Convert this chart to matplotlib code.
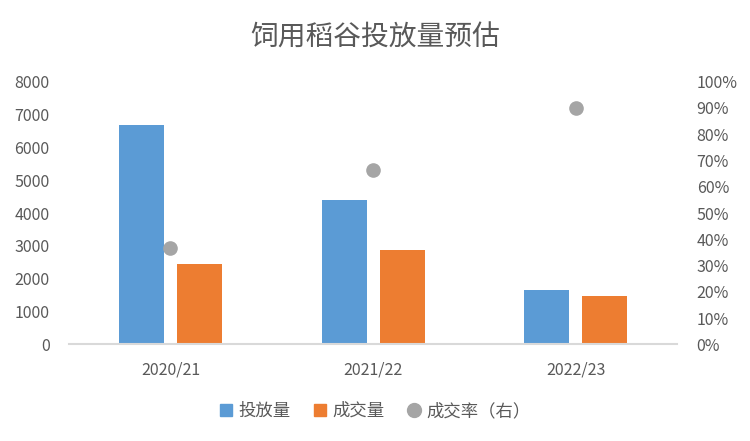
import matplotlib
matplotlib.use("Agg")
import matplotlib.pyplot as plt
import numpy as np
from matplotlib.lines import Line2D

plt.rcParams['font.family'] = ['Noto Sans CJK SC', 'DejaVu Sans']

categories = ["2020/21", "2021/22", "2022/23"]
investment = [6690, 4390, 1650]
deals = [2440, 2870, 1470]
rate = [0.367, 0.662, 0.90]
left_ticks = [0, 1000, 2000, 3000, 4000, 5000, 6000, 7000, 8000]
right_ticks = [0, 0.1, 0.2, 0.3, 0.4, 0.5, 0.6, 0.7, 0.8, 0.9, 1.0]

blue = "#5B9BD5"
orange = "#ED7D31"
gray = "#A5A5A5"
txt = "#595959"

fig = plt.figure(figsize=(7.5, 4.41), dpi=100)
ax = fig.add_axes([0.092, 0.219, 0.811, 0.596])
ax2 = ax.twinx()

x = np.arange(len(categories))
w = 0.222
off = 0.143
ax.bar(x - off, investment, w, color=blue, zorder=2)
ax.bar(x + off, deals, w, color=orange, zorder=2)
ax2.plot(x, rate, 'o', color=gray, markersize=9.5, zorder=3)

ax.set_xlim(-0.5, 2.5)
ax.set_ylim(0, 8000)
ax2.set_ylim(0, 1.0)
ax.set_yticks(left_ticks)
ax.set_yticklabels([str(v) for v in left_ticks])
ax2.set_yticks(right_ticks)
ax2.set_yticklabels([f"{int(round(v*100))}%" for v in right_ticks])
ax.set_xticks(x)
ax.set_xticklabels(categories)

for a in (ax, ax2):
    for s in a.spines.values():
        s.set_visible(False)
    a.tick_params(length=0, colors=txt, labelsize=11.5)
ax.spines['bottom'].set_visible(True)
ax.spines['bottom'].set_color("#D9D9D9")
ax.spines['bottom'].set_linewidth(1.5)
ax.tick_params(axis='y', pad=14)
ax2.tick_params(axis='y', pad=14)
ax.tick_params(axis='x', pad=12)

fig.text(0.5, 0.915, "饲用稻谷投放量预估", ha='center', va='center',
         fontsize=20, color=txt)

handles = [
    Line2D([], [], marker='s', linestyle='none', color=blue, markersize=8),
    Line2D([], [], marker='s', linestyle='none', color=orange, markersize=8),
    Line2D([], [], marker='o', linestyle='none', color=gray, markersize=10),
]
labels = ["投放量", "成交量", "成交率（右）"]
leg = fig.legend(handles, labels, loc='center', bbox_to_anchor=(0.5, 0.068),
                 ncol=3, frameon=False, fontsize=12.5, handlelength=0.8,
                 handletextpad=0.3, columnspacing=1.3)
for t in leg.get_texts():
    t.set_color(txt)

fig.savefig("out.png", dpi=100)
